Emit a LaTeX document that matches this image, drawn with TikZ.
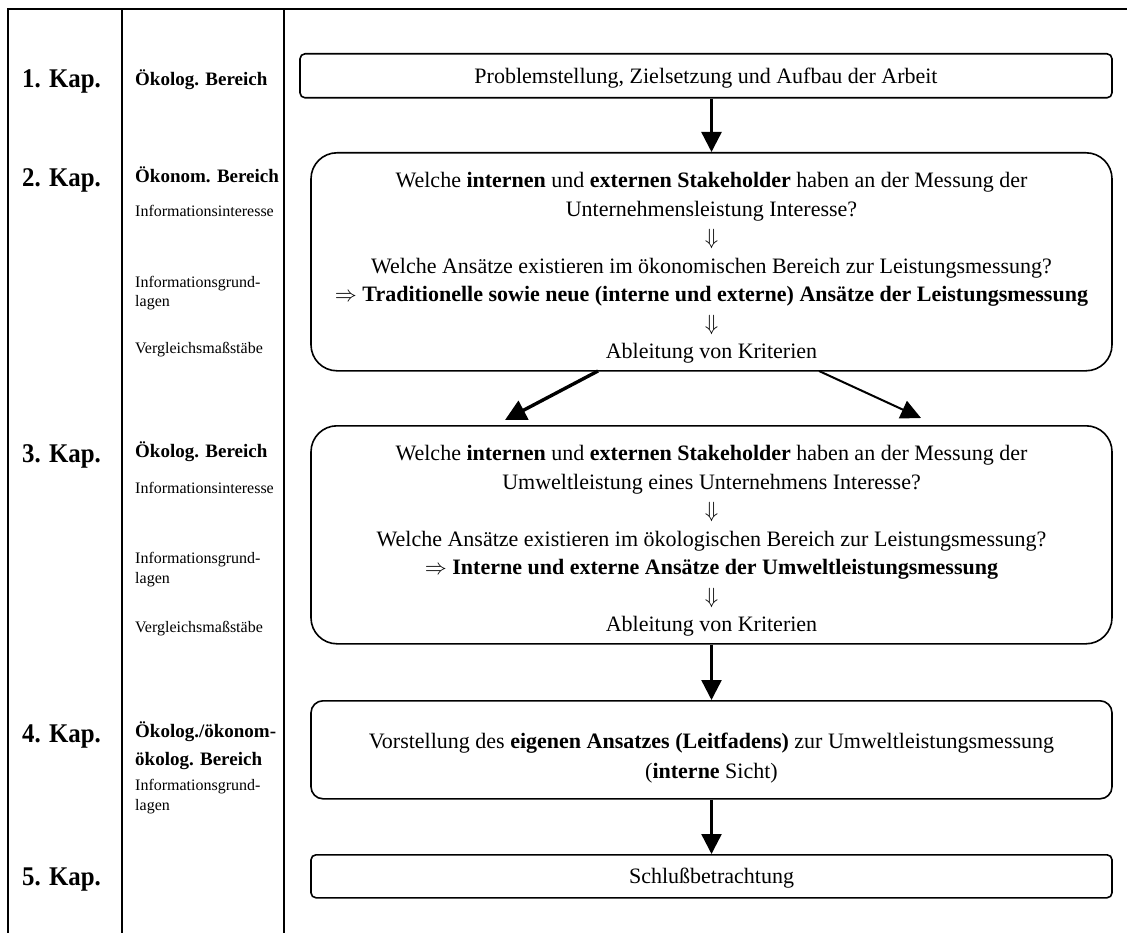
\documentclass[tikz,border=0pt]{standalone}
\usepackage{fix-cm}
\usepackage{fontspec}
\setmainfont{Liberation Serif}
\newfontfamily\kapfont[FakeStretch=0.92]{Liberation Serif}
\usetikzlibrary{arrows.meta,calc}
% struts that fix the space above the first and below the last line of a box
\newcommand\padtop[1]{\rule{0pt}{#1}}
\newcommand\padbot[1]{\rule[-#1]{0pt}{#1}}
% double arrow between two questions
\newcommand\thendown{$\Downarrow$}
\begin{document}
\begin{tikzpicture}[x=1pt,y=-1pt,
  rule/.style={line width=1.6pt},
  box/.style={draw,line width=1.6pt,inner xsep=0pt,inner ysep=0pt,
    minimum width=801pt,align=center,anchor=north,
    font=\fontsize{22}{28.5}\selectfont},
  kap/.style={anchor=base west,inner sep=0pt,font=\kapfont\bfseries\fontsize{27}{30}\selectfont},
  area/.style={anchor=base west,inner sep=0pt,align=left,font=\bfseries\fontsize{19}{28}\selectfont},
  info/.style={anchor=base west,inner sep=0pt,align=left,font=\fontsize{16}{20}\selectfont},
  arr/.style={line width=2.4pt,-{Triangle[length=20pt,width=20pt]}},
]
\useasboundingbox (0,0) rectangle (1127,933);

% table frame
\draw[rule] (1127,9) -- (8,9) -- (8,933);
\draw[rule] (122,9) -- (122,933);
\draw[rule] (284,9) -- (284,933);

% chapter column
\node[kap] (k1) at (22,88) {1. Kap.};
\node[kap] (k2) at (22,187) {2. Kap.};
\node[kap] (k3) at (22,462) {3. Kap.};
\node[kap] (k4) at (22,742) {4. Kap.};
\node[kap] (k5) at (22,885) {5. Kap.};

% area column (multi-line labels are placed by their last baseline)
\node[area] (a1) at (135,86) {Ökolog. Bereich};
\node[area] (a2) at (135,183) {Ökonom. Bereich};
\node[info] (a2i) at (135,217) {Informationsinteresse};
\node[info] (a2g) at (135,307) {Informationsgrund-\\lagen};
\node[info] (a2v) at (135,353) {Vergleichsmaßstäbe};
\node[area] (a3) at (135,457) {Ökolog. Bereich};
\node[info] (a3i) at (135,493) {Informationsinteresse};
\node[info] (a3g) at (135,583) {Informationsgrund-\\lagen};
\node[info] (a3v) at (135,632) {Vergleichsmaßstäbe};
\node[area] (a4) at (135,765) {Ökolog./ökonom-\\ökolog. Bereich};
\node[info] (a4g) at (135,810) {Informationsgrund-\\lagen};

% flow boxes
\node[box,rounded corners=5pt,minimum width=812pt] (b1) at (706,53)
  {\padtop{30pt}Problemstellung, Zielsetzung und Aufbau der Arbeit\padbot{14pt}};

\node[box,rounded corners=26pt] (b2) at (711.5,152)
  {\padtop{35pt}Welche \textbf{internen} und \textbf{externen Stakeholder} haben an der Messung der\\
   Unternehmensleistung Interesse?\\
   \thendown\\
   Welche Ansätze existieren im ökonomischen Bereich zur Leistungsmessung?\\
   $\Rightarrow$ \textbf{Traditionelle sowie neue (interne und externe) Ansätze der Leistungsmessung}\\
   \thendown\\
   Ableitung von Kriterien\padbot{12pt}};

\node[box,rounded corners=26pt] (b3) at (711.5,425)
  {\padtop{35pt}Welche \textbf{internen} und \textbf{externen Stakeholder} haben an der Messung der\\
   Umweltleistung eines Unternehmens Interesse?\\
   \thendown\\
   Welche Ansätze existieren im ökologischen Bereich zur Leistungsmessung?\\
   $\Rightarrow$ \textbf{Interne und externe Ansätze der Umweltleistungsmessung}\\
   \thendown\\
   Ableitung von Kriterien\padbot{12pt}};

\node[box,rounded corners=12pt,font=\fontsize{22}{30}\selectfont] (b4) at (711.5,700)
  {\padtop{48pt}Vorstellung des \textbf{eigenen Ansatzes (Leitfadens)} zur Umweltleistungsmessung\\
   (\textbf{interne} Sicht)\padbot{20pt}};

\node[box,rounded corners=5pt] (b5) at (711.5,854)
  {\padtop{29pt}Schlußbetrachtung\padbot{14pt}};

% connectors
\draw[arr] (b2.north |- b1.south) -- (b2.north);
\coordinate (l0) at (598,371);
\coordinate (l1) at (505,420);
\coordinate (r0) at (819,371);
\coordinate (r1) at (921,418);
\draw[arr,line width=3.4pt,-{Triangle[length=21pt,width=21pt]}] (l0) -- (l1);
\draw[arr,line width=2pt,-{Triangle[length=20pt,width=19pt]}] (r0) -- (r1);
\draw[arr] (b3.south) -- (b4.north);
\draw[arr] (b4.south) -- (b5.north);
\end{tikzpicture}
\end{document}
